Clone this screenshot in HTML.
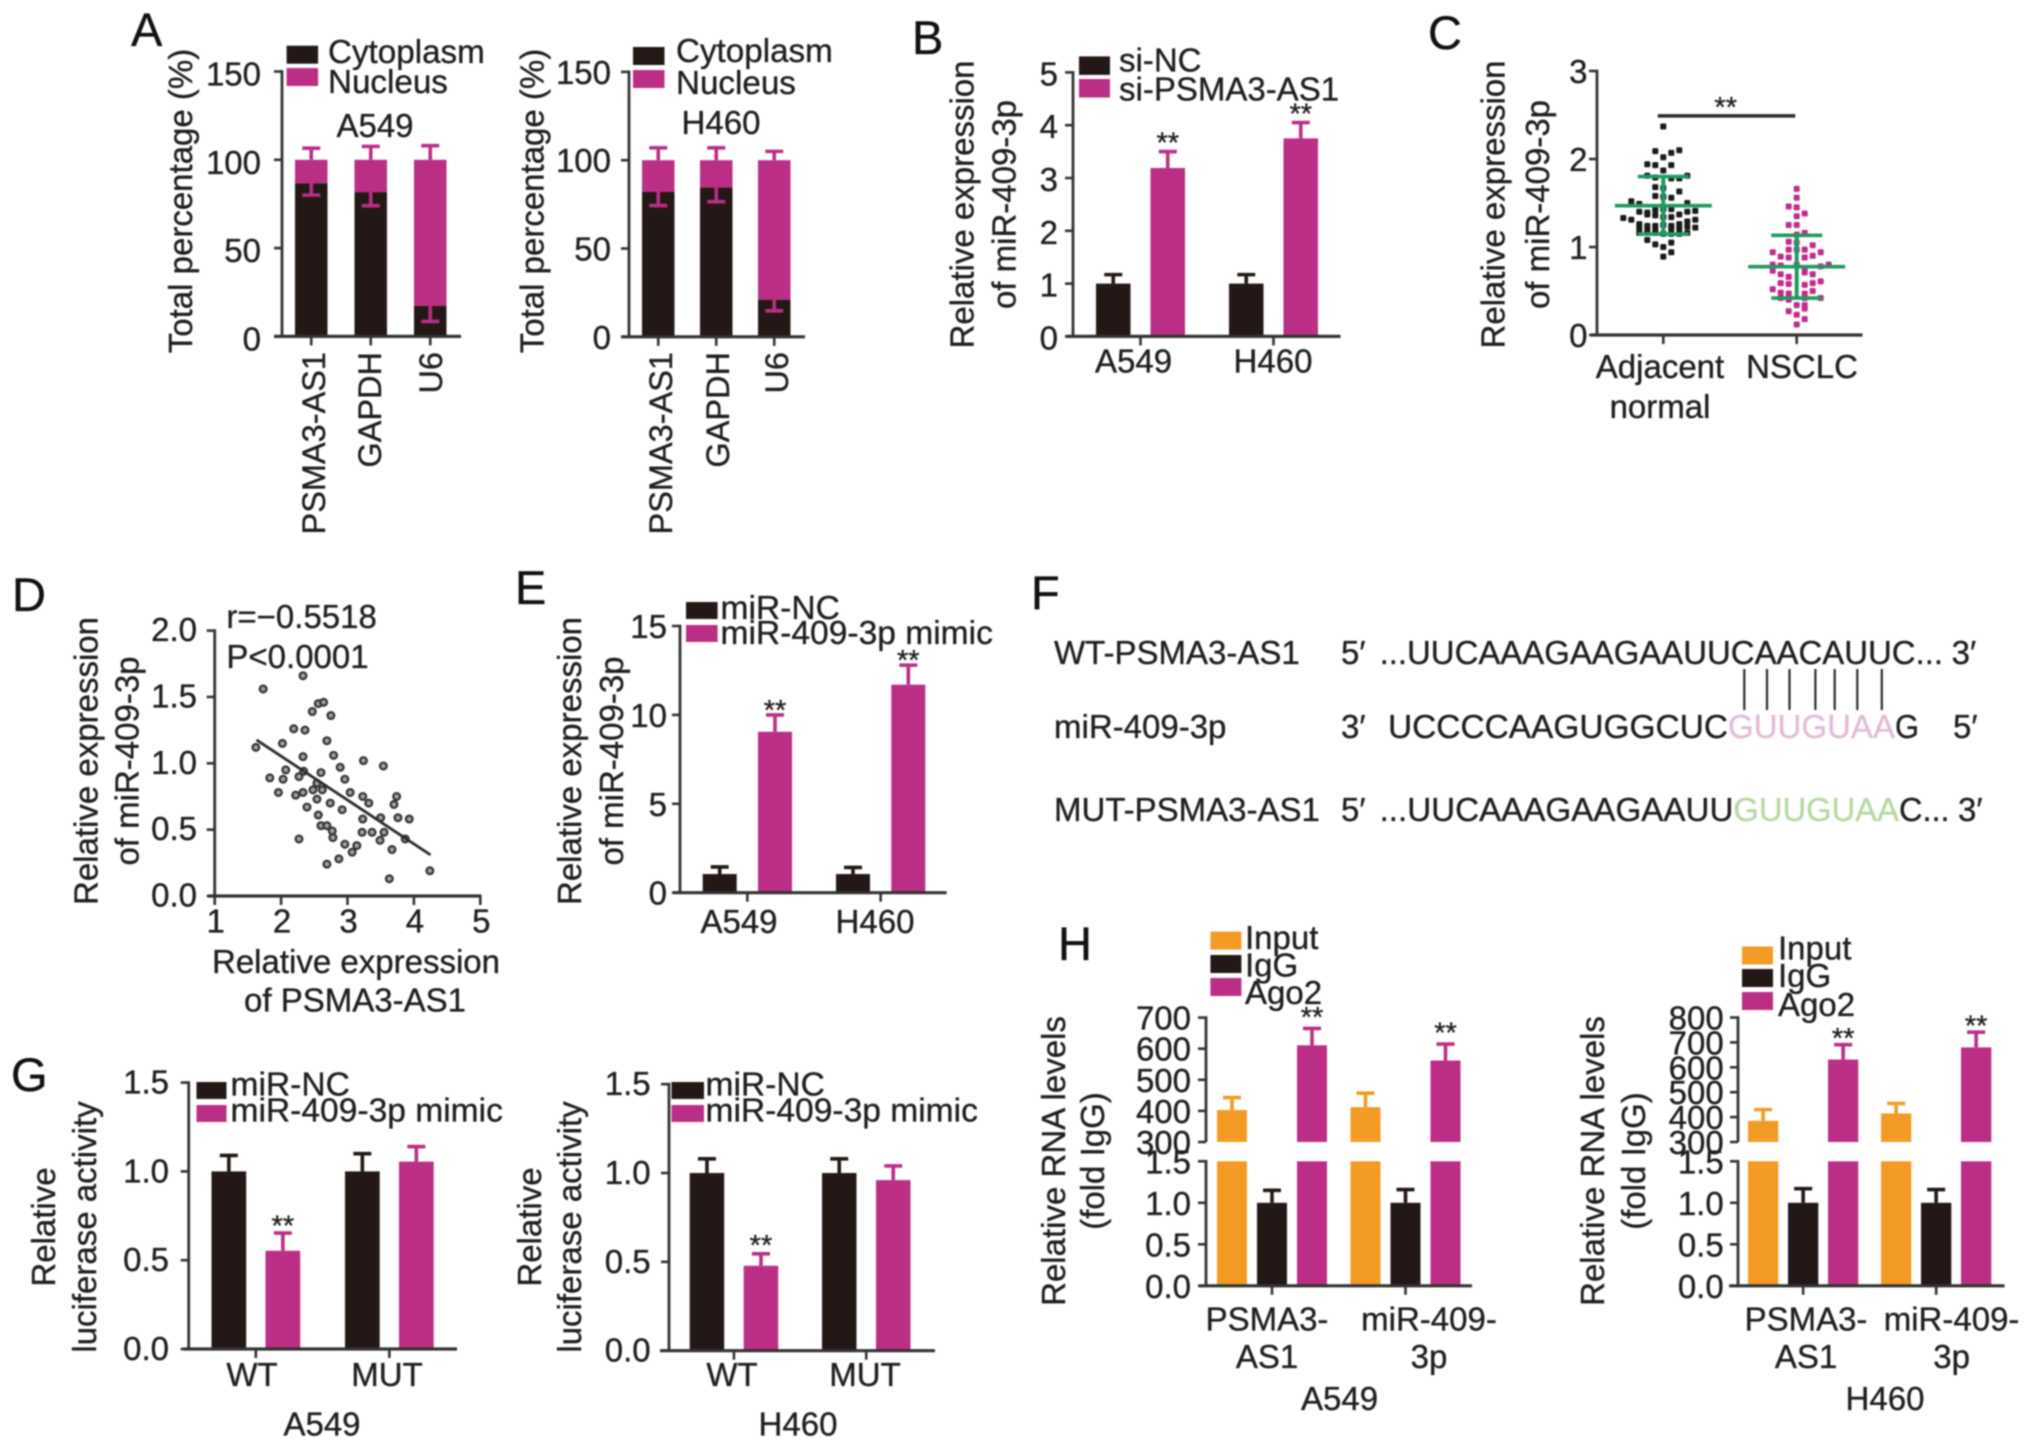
<!DOCTYPE html>
<html lang="en">
<head>
<meta charset="utf-8">
<title>PSMA3-AS1 and miR-409-3p figure panels</title>
<style>
html,body{margin:0;padding:0;background:#fff;}
#figure{display:block;width:2032px;height:1450px;background:#fff;filter:blur(0.8px);font-family:"Liberation Sans",sans-serif;}
</style>
</head>
<body>
<svg id="figure" xmlns="http://www.w3.org/2000/svg" width="2032" height="1450" viewBox="0 0 2032 1450"></svg>
<script>
/* ---------- Panel A data ---------- */
const fractionCategories = ['PSMA3-AS1', 'GAPDH', 'U6'];
const fractionTicks = [0, 50, 100, 150];
const a549Cytoplasm = [86.7, 81.7, 17.2];
const a549CytoplasmErr = [6.7, 7.7, 8.7];
const a549NucleusErr = [6.6, 7.6, 8];
const h460Cytoplasm = [82, 84.5, 21];
const h460CytoplasmErr = [7.7, 8, 6.3];
const h460NucleusErr = [7, 7, 5];

/* ---------- Panel B data ---------- */
const cellLines = ['A549', 'H460'];
const panelBTicks = [0, 1, 2, 3, 4, 5];
const siNcValues = [1, 1];
const siNcErr = [0.17, 0.17];
const siPsmaValues = [3.19, 3.75];
const siPsmaErr = [0.31, 0.3];

/* ---------- Panel C data ---------- */
const panelCTicks = [0, 1, 2, 3];
const adjacentSlots = [0,-1,0,1,2,-2,-1,1,0,-2,-1,1,2,3,-1,0,2,-1,0,1,-4,-3,3,-3,-2,-1,0,1,2,3,4,-2,-1,0,1,-5,-4,-3,-2,-1,0,1,2,3,4,-3,-2,-1,1,2,3,4,-3,-2,-1,0,1,2,3,-2,-1,1,0,1,0];
const adjacentValues = [2.37,2.09,2.02,2.07,2.10,1.94,1.93,1.93,1.87,1.81,1.79,1.78,1.78,1.81,1.68,1.67,1.63,1.58,1.57,1.56,1.52,1.49,1.50,1.40,1.39,1.42,1.43,1.43,1.37,1.40,1.41,1.37,1.36,1.34,1.34,1.33,1.31,1.26,1.24,1.24,1.25,1.24,1.26,1.29,1.31,1.21,1.20,1.20,1.21,1.21,1.23,1.22,1.16,1.16,1.16,1.15,1.15,1.15,1.16,1.08,1.03,1.05,1.00,0.94,0.89];
const nsclcSlots = [0,0,-1,0,1,0,-1,0,1,0,-1,0,2,-1,0,1,-3,3,-2,-1,1,2,-3,-2,0,3,4,-3,1,-2,-1,1,2,3,-2,-1,1,2,-3,-2,-1,1,2,3,1,-2,-1,0,1,1,-1,0,1,0];
const nsclcValues = [1.66,1.56,1.46,1.45,1.38,1.35,1.25,1.25,1.16,1.14,1.06,1.05,1.02,0.97,0.97,0.97,0.94,0.94,0.89,0.88,0.88,0.90,0.80,0.79,0.80,0.78,0.80,0.73,0.73,0.69,0.66,0.71,0.69,0.61,0.59,0.58,0.57,0.59,0.52,0.48,0.47,0.47,0.50,0.42,0.42,0.42,0.40,0.34,0.34,0.30,0.27,0.23,0.18,0.12];
const swarmGroups = ['Adjacent', 'NSCLC'];
const swarmMeans = [1.47, 0.776];
const swarmSdHigh = [1.80, 1.133];
const swarmSdLow = [1.147, 0.42];
const significanceLevel = 2.49;

/* ---------- Panel D data ---------- */
const panelDXTicks = ['1', '2', '3', '4', '5'];
const panelDYTicks = ['0.0', '0.5', '1.0', '1.5', '2.0'];
const psmaExpression = [2.33,1.73,2.56,2.64,2.47,2.75,2.19,2.36,2.69,2.02,1.62,2.33,2.79,2.89,3.24,3.54,2.07,1.83,2.03,2.27,2.34,2.60,2.96,2.54,2.62,2.48,2.33,2.22,1.96,2.54,2.39,2.74,3.04,3.23,3.32,2.92,2.56,3.23,3.50,3.70,3.74,3.76,3.93,2.60,2.69,2.77,2.78,2.27,3.22,3.37,3.55,3.49,3.87,2.96,3.14,3.07,3.67,2.87,2.69,4.24,3.63];
const mirExpression = [1.66,1.56,1.45,1.46,1.39,1.36,1.26,1.25,1.17,1.15,1.12,1.05,1.06,0.97,1.02,0.98,0.95,0.89,0.88,0.90,0.94,0.93,0.88,0.85,0.80,0.80,0.78,0.76,0.78,0.73,0.67,0.70,0.78,0.75,0.70,0.65,0.61,0.58,0.59,0.69,0.75,0.59,0.58,0.53,0.53,0.49,0.44,0.43,0.48,0.48,0.48,0.42,0.43,0.39,0.38,0.33,0.35,0.28,0.24,0.19,0.13];
const fitLineX = [1.63, 4.25];
const fitLineY = [1.176, 0.31];

/* ---------- Panel E data ---------- */
const panelETicks = [0, 5, 10, 15];
const mirNcValues = [1.05, 1.05];
const mirNcErr = [0.4, 0.37];
const mimicValues = [9.05, 11.7];
const mimicErr = [0.95, 1.1];

/* ---------- Panel G data ---------- */
const reporterTypes = ['WT', 'MUT'];
const decimalTicks = ['0.0', '0.5', '1.0', '1.5'];
const lucA549Nc = [1, 1];
const lucA549NcErr = [0.09, 0.1];
const lucA549Mimic = [0.553, 1.055];
const lucA549MimicErr = [0.1, 0.085];
const lucH460Nc = [1, 1];
const lucH460NcErr = [0.08, 0.08];
const lucH460Mimic = [0.478, 0.96];
const lucH460MimicErr = [0.067, 0.08];
const lucSignificant = [true, false];

/* ---------- Panel H data ---------- */
const ripA549Input = [403, 412];
const ripA549InputErr = [40, 45];
const ripA549Igg = [1, 1];
const ripA549IggErr = [0.15, 0.16];
const ripA549Ago2 = [611, 562];
const ripA549Ago2Err = [54, 53];
const ripH460Input = [385, 415];
const ripH460InputErr = [45, 40];
const ripH460Igg = [1, 1];
const ripH460IggErr = [0.17, 0.16];
const ripH460Ago2 = [631, 680];
const ripH460Ago2Err = [60, 61];
const ripLowerTicks = ['0.0', '0.5', '1.0', '1.5'];
const ripUpperTicksA549 = ['300', '400', '500', '600', '700'];
const ripUpperTicksH460 = ['300', '400', '500', '600', '700', '800'];

/* ---------- Drawing helpers ---------- */
const SVG_NS = 'http://www.w3.org/2000/svg';
const INK = '#1f1f1f';
const AXIS = '#333333';
const DARK = '#231815';
const MAGENTA = '#bb2e85';
const ORANGE = '#f39a25';
const GREEN = '#1f9a5f';
const FONT = 33;
const root = document.getElementById('figure');

function add(parent, tag, attrs, name) {
  const el = document.createElementNS(SVG_NS, tag);
  for (const k in attrs) el.setAttribute(k, attrs[k]);
  
  
  parent.appendChild(el);
  return el;
}
function group(parent, name) {
  return add(parent, 'g', {}, name);
}
function line(parent, x1, y1, x2, y2, color, width, name) {
  return add(parent, 'line', {x1: x1, y1: y1, x2: x2, y2: y2, stroke: color, 'stroke-width': width}, name);
}
function label(parent, x, y, str, name, opts) {
  const o = opts || {};
  const color = o.color || INK;
  const attrs = {x: x, y: y, 'font-size': o.size || FONT, fill: color, stroke: color, 'stroke-width': 0.35, 'text-anchor': o.anchor || 'start'};
  if (o.rotate) attrs.transform = 'rotate(-90 ' + x + ' ' + y + ')';
  if (o.length) { attrs.textLength = o.length; attrs.lengthAdjust = 'spacingAndGlyphs'; }
  const el = add(parent, 'text', attrs, name);
  el.textContent = str;
  return el;
}
function linear(origin, pxPerUnit, min) {
  const m = min || 0;
  return v => origin - (v - m) * pxPerUnit;
}
function yTitle(parent, x, cy, str, name) {
  label(parent, x, cy, str, name, {anchor: 'middle', rotate: true});
}
function yAxis(parent, x, top, bottom, scale, ticks, labelRight, prefix, labelDy) {
  const dy = labelDy || 0;
  line(parent, x, top - 1.3, x, bottom, AXIS, 2.8, prefix + '-y-axis-line');
  ticks.forEach(t => {
    const v = parseFloat(t);
    const y = scale(v);
    line(parent, x - 8, y, x, y, AXIS, 2.6, prefix + '-y-tick-' + t);
    label(parent, labelRight, y + 12 + dy, String(t), prefix + '-y-tick-label-' + t, {anchor: 'end'});
  });
}
function xAxisLine(parent, x1, x2, y, name) {
  line(parent, x1, y, x2, y, AXIS, 3.2, name);
}
function errorBar(parent, x, yFrom, yTo, color, name) {
  line(parent, x, yFrom, x, yTo, color, 3.6, name + '-stem');
  line(parent, x - 9, yTo, x + 9, yTo, color, 3.6, name + '-cap');
}
function stars(parent, x, yCenter, name) {
  label(parent, x, yCenter + 14, '**', name, {anchor: 'middle', size: 29});
}
function legend(parent, prefix, swatchX, swatchW, swatchH, swatchYs, textX, textYs, names, colors, fontSize) {
  names.forEach((n, i) => {
    const entry = group(parent, prefix + '-legend-entry-' + n.toLowerCase().replace(/[^a-z0-9]+/g, '-'));
    add(entry, 'rect', {x: swatchX, y: swatchYs[i], width: swatchW, height: swatchH, fill: colors[i]}, prefix + '-legend-swatch-' + i);
    label(entry, textX, textYs[i], n, prefix + '-legend-label-' + i, {size: fontSize || FONT});
  });
}
/* grouped bar series: o = first, groupStep, seriesStep, width, base, scale, starGap */
function barSeries(parent, prefix, seriesIndex, values, errs, color, o, starred) {
  values.forEach((v, g) => {
    const x = o.first + g * o.groupStep + seriesIndex * o.seriesStep;
    const cx = x + o.width / 2;
    const name = prefix + '-bar-' + g + '-' + seriesIndex;
    if (o.breakLow !== undefined && v > 1.5) {
      add(parent, 'rect', {x: x, y: o.scale(1.5), width: o.width, height: o.base - o.scale(1.5), fill: color}, name + '-lower');
      add(parent, 'rect', {x: x, y: o.scale(v), width: o.width, height: o.scale(300) - o.scale(v), fill: color}, name + '-upper');
    } else {
      add(parent, 'rect', {x: x, y: o.scale(v), width: o.width, height: o.base - o.scale(v), fill: color}, name);
    }
    const top = o.scale(v + errs[g]);
    errorBar(parent, cx, o.scale(v), top, color, name + '-error');
    const isStarred = Array.isArray(starred) ? starred[g] : starred;
    if (isStarred) stars(parent, cx, top - o.starGap, name + '-significance');
  });
}
function groupCenter(o, g, n) {
  return o.first + g * o.groupStep + (o.seriesStep * (n - 1) + o.width) / 2;
}
function xTicks(parent, prefix, o, categories, n, labelXs, labelY) {
  categories.forEach((c, g) => {
    const cx = groupCenter(o, g, n);
    line(parent, cx, o.base, cx, o.base + 9, AXIS, 2.6, prefix + '-x-tick-' + c);
    label(parent, labelXs[g], labelY, c, prefix + '-x-label-' + c, {anchor: 'middle'});
  });
}

/* ---------- Panel letters ---------- */
const letters = group(root, 'panel-letters');
[['A',131,46],['B',912,54],['C',1428,49],['D',12,611],['E',515,604],['F',1031,609],['G',11,1091],['H',1058,960]].forEach(p => {
  label(letters, p[1], p[2], p[0], 'panel-letter-' + p[0].toLowerCase(), {size: 47, color: '#111'});
});

/* ---------- Panel A ---------- */
function fractionChart(prefix, o, cyt, cytErr, nucErr, cellLabel) {
  const g = group(root, prefix);
  const y = linear(o.base, o.unit);
  cyt.forEach((v, i) => {
    const x = o.first + i * o.step;
    const cx = x + o.width / 2;
    add(g, 'rect', {x: x, y: y(100), width: o.width, height: y(v) - y(100), fill: MAGENTA}, prefix + '-nucleus-bar-' + fractionCategories[i]);
    add(g, 'rect', {x: x, y: y(v), width: o.width, height: o.base - y(v), fill: DARK}, prefix + '-cytoplasm-bar-' + fractionCategories[i]);
    errorBar(g, cx, y(100), y(100 + nucErr[i]), MAGENTA, prefix + '-nucleus-error-' + i);
    errorBar(g, cx, y(v), y(v - cytErr[i]), MAGENTA, prefix + '-cytoplasm-error-' + i);
    line(g, cx, o.base, cx, o.base + 9, AXIS, 2.6, prefix + '-x-tick-' + i);
    label(g, o.labelXs[i], 352, fractionCategories[i], prefix + '-x-label-' + i, {anchor: 'end', rotate: true, size: 32.5});
  });
  xAxisLine(g, o.x1, o.x2, o.base, prefix + '-x-axis-line');
  yAxis(g, o.axisX, y(150), o.base, y, fractionTicks, o.tickRight, prefix, o.labelDy);
  yTitle(g, o.titleX, 201, 'Total percentage (%)', prefix + '-y-axis-title');
  label(g, o.cellX, o.cellY, cellLabel, prefix + '-cell-line-title', {anchor: 'middle'});
  legend(g, prefix, o.swatchX, 31.5, 18, o.swatchYs, o.textX, o.textYs, ['Cytoplasm', 'Nucleus'], [DARK, MAGENTA], 33.2);
}
fractionChart('panel-a-a549', {base: 336.4, unit: 1.766, first: 295, step: 59.5, width: 32.5, x1: 274.5, x2: 461, axisX: 282, tickRight: 261, labelDy: 2, titleX: 192, cellX: 375, cellY: 137, swatchX: 286.6, swatchYs: [45.7, 68], textX: 328, textYs: [63, 93], labelXs: [325, 381, 442]}, a549Cytoplasm, a549CytoplasmErr, a549NucleusErr, 'A549');
fractionChart('panel-a-h460', {base: 336.8, unit: 1.766, first: 642, step: 58, width: 32.5, x1: 621, x2: 805, axisX: 629, tickRight: 611, labelDy: 0, titleX: 543.5, cellX: 721, cellY: 134, swatchX: 633, swatchYs: [47, 70], textX: 676, textYs: [62, 94], labelXs: [672, 729, 788]}, h460Cytoplasm, h460CytoplasmErr, h460NucleusErr, 'H460');

/* ---------- Panel B ---------- */
(function () {
  const g = group(root, 'panel-b');
  const o = {first: 1096, groupStep: 133, seriesStep: 54.5, width: 34.5, base: 336.4, scale: linear(336.4, 52.8), starGap: 13};
  barSeries(g, 'panel-b-si-nc', 0, siNcValues, siNcErr, DARK, o, false);
  barSeries(g, 'panel-b-si-psma3', 1, siPsmaValues, siPsmaErr, MAGENTA, o, true);
  xAxisLine(g, 1066, 1340.5, o.base, 'panel-b-x-axis-line');
  yAxis(g, 1073, o.scale(5), o.base, o.scale, panelBTicks, 1058, 'panel-b', 1);
  xTicks(g, 'panel-b', o, cellLines, 2, [1133.6, 1273], 372.5);
  yTitle(g, 973.7, 204.5, 'Relative expression', 'panel-b-y-axis-title-line-1');
  yTitle(g, 1015.7, 204.5, 'of miR-409-3p', 'panel-b-y-axis-title-line-2');
  legend(g, 'panel-b', 1079, 31, 18.5, [56.4, 79], 1119, [71.5, 100.5], ['si-NC', 'si-PSMA3-AS1'], [DARK, MAGENTA]);
})();

/* ---------- Panel C ---------- */
(function () {
  const g = group(root, 'panel-c');
  const base = 335;
  const y = linear(base, 88);
  const centers = [1663.3, 1796.7];
  const slotWidth = 8;
  function swarm(slots, values, cx, color, name) {
    values.forEach((v, i) => {
      add(g, 'rect', {x: cx + slots[i] * slotWidth - 3, y: y(v) - 3, width: 6, height: 6, rx: 1.2, fill: color}, name + '-point-' + i);
    });
  }
  swarm(adjacentSlots, adjacentValues, centers[0], '#1a1a1a', 'panel-c-adjacent');
  swarm(nsclcSlots, nsclcValues, centers[1], '#c22a8c', 'panel-c-nsclc');
  swarmGroups.forEach((n, i) => {
    const cx = centers[i];
    line(g, cx, y(swarmSdHigh[i]), cx, y(swarmSdLow[i]), GREEN, 4, 'panel-c-sd-stem-' + n);
    line(g, cx - 48.5, y(swarmMeans[i]), cx + 48.5, y(swarmMeans[i]), GREEN, 3.6, 'panel-c-mean-line-' + n);
    line(g, cx - 25.5, y(swarmSdHigh[i]), cx + 25.5, y(swarmSdHigh[i]), GREEN, 3.6, 'panel-c-sd-high-' + n);
    line(g, cx - 25.5, y(swarmSdLow[i]), cx + 25.5, y(swarmSdLow[i]), GREEN, 3.6, 'panel-c-sd-low-' + n);
    line(g, cx, base, cx, base + 9, AXIS, 2.6, 'panel-c-x-tick-' + n);
  });
  line(g, centers[0] - 5.5, y(significanceLevel), centers[1] - 1.5, y(significanceLevel), '#2a2a2a', 3.6, 'panel-c-significance-bar');
  stars(g, 1725.7, y(significanceLevel) - 13, 'panel-c-significance-stars');
  xAxisLine(g, 1591, 1862.5, base, 'panel-c-x-axis-line');
  yAxis(g, 1597, y(3), base, y, panelCTicks, 1587.5, 'panel-c', 0);
  yTitle(g, 1504.7, 204.5, 'Relative expression', 'panel-c-y-axis-title-line-1');
  yTitle(g, 1549, 204.5, 'of miR-409-3p', 'panel-c-y-axis-title-line-2');
  label(g, 1660, 378, 'Adjacent', 'panel-c-x-label-adjacent-line-1', {anchor: 'middle'});
  label(g, 1660, 418, 'normal', 'panel-c-x-label-adjacent-line-2', {anchor: 'middle'});
  label(g, 1802, 378, 'NSCLC', 'panel-c-x-label-nsclc', {anchor: 'middle'});
})();

/* ---------- Panel D ---------- */
(function () {
  const g = group(root, 'panel-d');
  const base = 896;
  const xScale = v => 214.7 + (v - 1) * 66.4;
  const yScale = linear(base, 132.7);
  psmaExpression.forEach((v, i) => {
    add(g, 'circle', {cx: xScale(v), cy: yScale(mirExpression[i]), r: 3.4, fill: '#a0a0a0', stroke: '#333', 'stroke-width': 2.2}, 'panel-d-point-' + i);
  });
  line(g, xScale(fitLineX[0]), yScale(fitLineY[0]), xScale(fitLineX[1]), yScale(fitLineY[1]), '#2c2c2c', 2.8, 'panel-d-regression-line');
  xAxisLine(g, 208, 481.5, base, 'panel-d-x-axis-line');
  panelDXTicks.forEach(t => {
    const x = xScale(parseFloat(t));
    line(g, x, base, x, base + 9, AXIS, 2.6, 'panel-d-x-tick-' + t);
    label(g, x + 1, 932.7, t, 'panel-d-x-tick-label-' + t, {anchor: 'middle'});
  });
  yAxis(g, 214.7, yScale(2), base, yScale, panelDYTicks, 197, 'panel-d', -1.5);
  yTitle(g, 97.6, 761, 'Relative expression', 'panel-d-y-axis-title-line-1');
  yTitle(g, 138.6, 761, 'of miR-409-3p', 'panel-d-y-axis-title-line-2');
  label(g, 356, 973, 'Relative expression', 'panel-d-x-axis-title-line-1', {anchor: 'middle'});
  label(g, 355, 1011.7, 'of PSMA3-AS1', 'panel-d-x-axis-title-line-2', {anchor: 'middle'});
  label(g, 226.4, 628, 'r=−0.5518', 'panel-d-correlation-coefficient');
  label(g, 226.4, 668, 'P<0.0001', 'panel-d-p-value');
})();

/* ---------- Panel E ---------- */
(function () {
  const g = group(root, 'panel-e');
  const o = {first: 702.7, groupStep: 133.3, seriesStep: 55.3, width: 34, base: 892.7, scale: linear(892.7, 17.78), starGap: 9};
  barSeries(g, 'panel-e-mir-nc', 0, mirNcValues, mirNcErr, DARK, o, false);
  barSeries(g, 'panel-e-mimic', 1, mimicValues, mimicErr, MAGENTA, o, true);
  xAxisLine(g, 673, 946.6, o.base, 'panel-e-x-axis-line');
  yAxis(g, 680, o.scale(15), o.base, o.scale, panelETicks, 667, 'panel-e', 0);
  xTicks(g, 'panel-e', o, cellLines, 2, [739, 875], 933);
  yTitle(g, 581, 761, 'Relative expression', 'panel-e-y-axis-title-line-1');
  yTitle(g, 623, 761, 'of miR-409-3p', 'panel-e-y-axis-title-line-2');
  legend(g, 'panel-e', 686, 31.6, 17, [602, 625], 720.5, [619, 644], ['miR-NC', 'miR-409-3p mimic'], [DARK, MAGENTA], 33.6);
})();

/* ---------- Panel F ---------- */
(function () {
  const g = group(root, 'panel-f');
  const rows = [664, 738, 821];
  const F = 33;
  const t = (x, row, s, name, color, length) => label(g, x, rows[row], s, name, {size: F, color: color || INK, length: length});
  t(1054, 0, 'WT-PSMA3-AS1', 'wt-sequence-name');
  t(1341, 0, '5′', 'wt-five-prime');
  t(1379.6, 0, '...UUCAAAGAAGAAUUCAACAUUC...', 'wt-sequence', null, 563.4);
  t(1951.6, 0, '3′', 'wt-three-prime');
  t(1054, 1, 'miR-409-3p', 'mir-sequence-name');
  t(1341, 1, '3′', 'mir-three-prime');
  t(1388, 1, 'UCCCCAAGUGGCUC', 'mir-sequence-left', null, 340);
  t(1728, 1, 'GUUGUAA', 'mir-seed-region', '#e2bcd9', 167);
  t(1895, 1, 'G', 'mir-sequence-right', null, 24);
  t(1953, 1, '5′', 'mir-five-prime');
  t(1054, 2, 'MUT-PSMA3-AS1', 'mut-sequence-name');
  t(1341, 2, '5′', 'mut-five-prime');
  t(1379.6, 2, '...UUCAAAGAAGAAUU', 'mut-sequence-left', null, 353.8);
  t(1733.4, 2, 'GUUGUAA', 'mut-mutated-region', '#b7d8a2', 165.6);
  t(1899, 2, 'C...', 'mut-sequence-right', null, 50.6);
  t(1958, 2, '3′', 'mut-three-prime');
  [1744.3, 1767, 1789.5, 1815.4, 1834.7, 1857.3, 1881.8].forEach((x, i) => {
    line(g, x, 669, x, 710, '#2b2b2b', 2.2, 'base-pair-line-' + i);
  });
})();

/* ---------- Panel G ---------- */
function luciferaseChart(prefix, o, l, nc, ncErr, mimic, mimicErr, cellLabel) {
  const g = group(root, prefix);
  barSeries(g, prefix + '-mir-nc', 0, nc, ncErr, DARK, o, false);
  barSeries(g, prefix + '-mimic', 1, mimic, mimicErr, MAGENTA, o, lucSignificant);
  xAxisLine(g, l.x1, l.x2, o.base, prefix + '-x-axis-line');
  yAxis(g, l.axisX, o.scale(1.5), o.base, o.scale, decimalTicks, l.tickRight, prefix, -1);
  xTicks(g, prefix, o, reporterTypes, 2, l.labelXs, 1386);
  yTitle(g, l.title1, 1227, 'Relative', prefix + '-y-axis-title-line-1');
  yTitle(g, l.title2, 1227, 'luciferase activity', prefix + '-y-axis-title-line-2');
  label(g, l.cellX, 1435.7, cellLabel, prefix + '-cell-line-title', {anchor: 'middle'});
  legend(g, prefix, l.swatchX, l.swatchW, 17, [1082, 1105], l.textX, [1095.5, 1121.5], ['miR-NC', 'miR-409-3p mimic'], [DARK, MAGENTA], 33.6);
}
luciferaseChart('panel-g-a549', {first: 211.5, groupStep: 133.5, seriesStep: 54, width: 34.7, base: 1349, scale: linear(1349, 177.6), starGap: 11.5}, {x1: 183.5, x2: 457, axisX: 188.7, tickRight: 169, labelXs: [252, 387], title1: 55, title2: 96, cellX: 322, swatchX: 196.5, swatchW: 30, textX: 230.5}, lucA549Nc, lucA549NcErr, lucA549Mimic, lucA549MimicErr, 'A549');
luciferaseChart('panel-g-h460', {first: 689.7, groupStep: 132.3, seriesStep: 54, width: 34.5, base: 1350.7, scale: linear(1350.7, 177.7), starGap: 13}, {x1: 660, x2: 935, axisX: 669, tickRight: 650.6, labelXs: [732, 865], title1: 541, title2: 581, cellX: 798, swatchX: 671.5, swatchW: 32.5, textX: 705.5}, lucH460Nc, lucH460NcErr, lucH460Mimic, lucH460MimicErr, 'H460');

/* ---------- Panel H ---------- */
function ripChart(prefix, o, l, input, inputErr, igg, iggErr, ago2, ago2Err, upperTicks, cellLabel) {
  const g = group(root, prefix);
  const brk = 1142;
  o.scale = v => v <= 1.5 ? o.base - v * l.lowUnit : brk - (v - 300) * l.upUnit;
  o.breakLow = 1.5;
  barSeries(g, prefix + '-input', 0, input, inputErr, ORANGE, o, false);
  barSeries(g, prefix + '-igg', 1, igg, iggErr, DARK, o, false);
  barSeries(g, prefix + '-ago2', 2, ago2, ago2Err, MAGENTA, o, true);
  xAxisLine(g, l.x1, l.x2, o.base, prefix + '-x-axis-line');
  const lowerTop = o.scale(1.5);
  yAxis(g, l.axisX, lowerTop, o.base, o.scale, ripLowerTicks, l.tickRight, prefix + '-lower', 0);
  yAxis(g, l.axisX, o.scale(parseFloat(upperTicks[upperTicks.length - 1])), brk, o.scale, upperTicks, l.tickRight, prefix + '-upper', 0);
  [0, 1].forEach(i => {
    const cx = groupCenter(o, i, 3);
    line(g, cx, o.base, cx, o.base + 9, AXIS, 2.6, prefix + '-x-tick-' + i);
  });
  label(g, l.labelXs[0], 1330.7, 'PSMA3-', prefix + '-x-label-psma3-line-1', {anchor: 'middle'});
  label(g, l.labelXs[0], 1368, 'AS1', prefix + '-x-label-psma3-line-2', {anchor: 'middle'});
  label(g, l.labelXs[1], 1330.7, 'miR-409-', prefix + '-x-label-mir-line-1', {anchor: 'middle'});
  label(g, l.labelXs[1], 1368, '3p', prefix + '-x-label-mir-line-2', {anchor: 'middle'});
  label(g, l.cellX, 1410, cellLabel, prefix + '-cell-line-title', {anchor: 'middle'});
  yTitle(g, l.title1, 1161, 'Relative RNA levels', prefix + '-y-axis-title-line-1');
  yTitle(g, l.title2, 1161, '(fold IgG)', prefix + '-y-axis-title-line-2');
  legend(g, prefix, l.swatchX, 31, 18, l.swatchYs, l.textX, l.textYs, ['Input', 'IgG', 'Ago2'], [ORANGE, DARK, MAGENTA]);
}
ripChart('panel-h-a549', {first: 1217, groupStep: 133.5, seriesStep: 40, width: 30, base: 1285.8, starGap: 15.5}, {lowUnit: 83, upUnit: 0.311, x1: 1199, x2: 1472, axisX: 1206, tickRight: 1191, labelXs: [1267, 1429], cellX: 1339.6, title1: 1065, title2: 1104, swatchX: 1210.4, swatchYs: [931.6, 955, 978], textX: 1245, textYs: [949, 976.5, 1004]}, ripA549Input, ripA549InputErr, ripA549Igg, ripA549IggErr, ripA549Ago2, ripA549Ago2Err, ripUpperTicksA549, 'A549');
ripChart('panel-h-h460', {first: 1748, groupStep: 133, seriesStep: 40, width: 30.3, base: 1285.8, starGap: 10.5}, {lowUnit: 83, upUnit: 0.249, x1: 1729, x2: 2004.5, axisX: 1738, tickRight: 1723.7, labelXs: [1806, 1951.6], cellX: 1885, title1: 1604, title2: 1645, swatchX: 1742, swatchYs: [946.5, 969, 992], textX: 1778, textYs: [959.6, 987, 1016]}, ripH460Input, ripH460InputErr, ripH460Igg, ripH460IggErr, ripH460Ago2, ripH460Ago2Err, ripUpperTicksH460, 'H460');
</script>
</body>
</html>
